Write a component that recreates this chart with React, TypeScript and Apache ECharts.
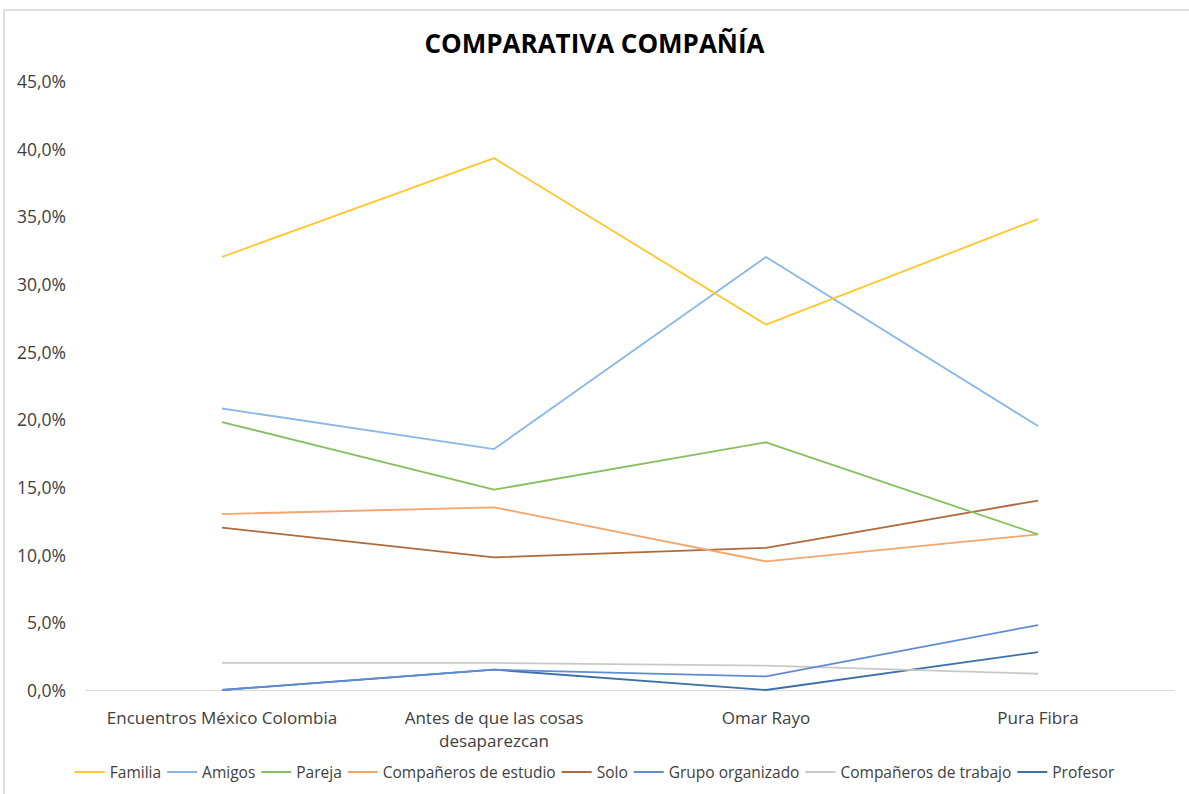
import React, { useEffect, useRef } from "react";
import * as echarts from "echarts";

const categories = [
  "Encuentros México Colombia",
  "Antes de que las cosas desaparezcan",
  "Omar Rayo",
  "Pura Fibra",
];

const familia = [32.0, 39.3, 27.0, 34.8];
const amigos = [20.8, 17.8, 32.0, 19.5];
const pareja = [19.8, 14.8, 18.3, 11.5];
const companerosEstudio = [13.0, 13.5, 9.5, 11.5];
const solo = [12.0, 9.8, 10.5, 14.0];
const grupoOrganizado = [0.0, 1.5, 1.0, 4.8];
const companerosTrabajo = [2.0, 2.0, 1.8, 1.2];
const profesor = [0.0, 1.5, 0.0, 2.8];

const seriesNames = [
  "Familia",
  "Amigos",
  "Pareja",
  "Compañeros de estudio",
  "Solo",
  "Grupo organizado",
  "Compañeros de trabajo",
  "Profesor",
];
const seriesData = [
  familia,
  amigos,
  pareja,
  companerosEstudio,
  solo,
  grupoOrganizado,
  companerosTrabajo,
  profesor,
];
const seriesColors = [
  "#FFC72C",
  "#8AB8E6",
  "#86BF60",
  "#F5A46C",
  "#B0693A",
  "#5F8BD6",
  "#C8C8C8",
  "#3D6FA8",
];

const FONT = "'Open Sans', 'Noto Sans', sans-serif";

export default function App() {
  const ref = useRef<HTMLDivElement>(null);
  useEffect(() => {
    if (!ref.current) return;
    const chart = echarts.init(ref.current, null, { renderer: "svg" });
    chart.setOption({
      animation: false,
      backgroundColor: "#ffffff",
      textStyle: { fontFamily: FONT },
      title: {
        text: "COMPARATIVA COMPAÑÍA",
        left: "center",
        top: 25,
        textStyle: {
          fontFamily: FONT,
          fontSize: 26,
          fontWeight: "bold",
          color: "#000000",
        },
      },
      graphic: [
        {
          type: "rect",
          shape: { x: 4, y: 10, width: 1200, height: 800 },
          style: { fill: "none", stroke: "#bfbfbf", lineWidth: 1 },
          silent: true,
        },
      ],
      grid: { left: 86, right: 15, top: 81, bottom: 104, containLabel: false },
      legend: {
        bottom: 9,
        left: "center",
        icon: "rect",
        itemWidth: 30,
        itemHeight: 2,
        itemGap: 6,
        textStyle: { fontFamily: FONT, fontSize: 15.5, color: "#404040" },
        data: seriesNames,
      },
      xAxis: {
        type: "category",
        data: categories,
        boundaryGap: true,
        axisLine: { lineStyle: { color: "#d9d9d9", width: 1 } },
        axisTick: { show: false },
        axisLabel: {
          margin: 16,
          fontFamily: FONT,
          fontSize: 17,
          color: "#404040",
          lineHeight: 23,
          interval: 0,
          formatter: (v: string) =>
            v === "Antes de que las cosas desaparezcan"
              ? "Antes de que las cosas\ndesaparezcan"
              : v,
        },
      },
      yAxis: {
        type: "value",
        min: 0,
        max: 45,
        interval: 5,
        axisLine: { show: false },
        axisTick: { show: false },
        splitLine: { show: false },
        axisLabel: {
          margin: 20,
          fontFamily: FONT,
          fontSize: 17.5,
          color: "#404040",
          formatter: (v: number) => v.toFixed(1).replace(".", ",") + "%",
        },
      },
      series: seriesNames.map((name, i) => ({
        name,
        type: "line",
        data: seriesData[i],
        showSymbol: false,
        symbol: "none",
        lineStyle: { color: seriesColors[i], width: 1.8 },
        itemStyle: { color: seriesColors[i] },
        z: 10 - i,
      })),
    });
    return () => chart.dispose();
  }, []);
  return (
    <div
      ref={ref}
      style={{ position: "fixed", left: 0, top: 0, width: 1189, height: 794 }}
    />
  );
}
